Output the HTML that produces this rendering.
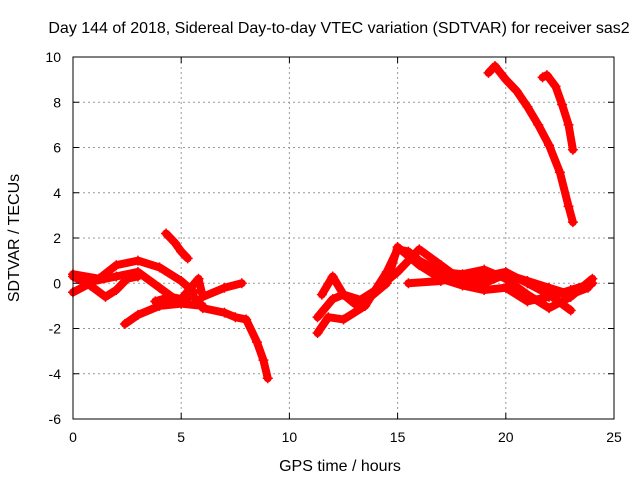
<!DOCTYPE html>
<html><head><meta charset="utf-8"><style>
body{margin:0;background:#fff;}
svg text{font-family:"Liberation Sans",sans-serif;font-size:14px;fill:#000;}
</style></head><body>
<svg id="chart" width="640" height="480" xmlns="http://www.w3.org/2000/svg">
<text x="339" y="33" text-anchor="middle" style="font-size:16px">Day 144 of 2018, Sidereal Day-to-day VTEC variation (SDTVAR) for receiver sas2</text>
<text x="340" y="471" text-anchor="middle" style="font-size:16px">GPS time / hours</text>
<text x="0" y="0" transform="translate(19,238) rotate(-90)" text-anchor="middle" style="font-size:16px">SDTVAR / TECUs</text>
<g id="grid"></g><g id="marks"></g><g id="axes"></g>
</svg>
<script>
const xTicks=[0,5,10,15,20,25];
const yTicks=[-6,-4,-2,0,2,4,6,8,10];
const trackA=[[19.2,9.3],[19.5,9.6],[20,9.0],[20.5,8.5],[21,7.8],[21.5,7.0],[22,6.1],[22.5,4.9],[22.9,3.4],[23.1,2.7]];
const trackB=[[21.7,9.1],[21.9,9.2],[22.3,8.7],[22.6,7.9],[22.9,7.0],[23.1,5.9]];
const trackC=[[4.3,2.2],[4.7,1.8],[5.0,1.4],[5.3,1.1]];
const trackD=[[2.4,-1.8],[3,-1.4],[4,-1.0],[5,-0.9],[5.5,-0.5],[6,-1.1],[7,-1.3],[7.5,-1.5],[8,-1.6],[8.5,-2.6],[8.8,-3.4],[9,-4.2]];
const trackE=[[0,0.4],[1.2,0.2],[2,0.8],[3,1.0],[4,0.7],[5,0.1],[5.6,-0.4]];
const trackF=[[0,-0.4],[1,0.1],[2,0.3],[3,0.5],[4,-0.2],[5,-0.9],[6,-1.0]];
const trackG=[[3.8,-0.8],[4.5,-0.6],[5,-0.7],[5.8,0.2],[6,-0.6],[7,-0.2],[7.8,0]];
const trackH=[[0,0.3],[0.8,-0.1],[1.5,-0.6],[2,-0.3],[2.5,0.2],[3,0.3]];
const trackJ=[[11.3,-2.2],[11.8,-1.5],[12.5,-1.6],[13.5,-1.0],[14.5,0.5],[15,1.5],[15.5,1.4],[16,1.0],[17,0.5],[18,0.4],[19,0.6],[20,0.2],[21,-0.5],[22,-1.1],[23,-0.6],[24,0.2]];
const trackK=[[11.3,-1.5],[12,-0.7],[12.5,-0.5],[13,-0.9],[14,-0.3],[15,0.5],[16,1.5],[17,0.8],[18,0.1],[19,0.3],[20,0.5],[21,0],[22,-0.5],[23,-1.2]];
const trackL=[[11.5,-0.5],[12,0.3],[12.5,-0.5],[13.5,-0.8],[14.5,0],[15,1.6],[16,0.8],[17,0.2],[18,-0.1],[19,-0.3],[20,-0.2],[21,-0.8],[22,-0.6],[23,-0.3],[24,0]];
const trackM=[[15.5,0],[17,0.1],[18,0.3],[19,0],[20,0.4],[21,0.1],[22,-0.2],[23,-0.5],[23.8,-0.2]];
const tracks=[trackA,trackB,trackC,trackD,trackE,trackF,trackG,trackH,trackJ,trackK,trackL,trackM];
const X0=73,X1=614,Y0=419,Y1=57;
const sx=v=>X0+(v-0)/(25-0)*(X1-X0);
const sy=v=>Y0-(v+6)/(16)*(Y0-Y1);
const NS="http://www.w3.org/2000/svg";
function mk(t,a,p){const e=document.createElementNS(NS,t);for(const k in a)e.setAttribute(k,a[k]);p.appendChild(e);return e;}
const grid=document.getElementById('grid'),axes=document.getElementById('axes'),marks=document.getElementById('marks');
xTicks.forEach(t=>{const x=sx(t);
 if(t>0&&t<25){const l=mk('line',{x1:x,x2:x,y1:Y1,y2:Y0,stroke:'#999','stroke-dasharray':'2,3'},grid);
 
 }
 mk('line',{x1:x,x2:x,y1:Y0,y2:Y0-6,stroke:'#000'},axes);mk('line',{x1:x,x2:x,y1:Y1,y2:Y1+6,stroke:'#000'},axes);
 const tx=mk('text',{x:x,y:Y0+23,'text-anchor':'middle'},axes);tx.textContent=t;
 
 });
yTicks.forEach(t=>{const y=sy(t);
 if(t>-6&&t<10){const l=mk('line',{x1:X0,x2:X1,y1:y,y2:y,stroke:'#999','stroke-dasharray':'2,3'},grid);
 
 }
 mk('line',{x1:X0,x2:X0+6,y1:y,y2:y,stroke:'#000'},axes);mk('line',{x1:X1,x2:X1-6,y1:y,y2:y,stroke:'#000'},axes);
 const tx=mk('text',{x:X0-12,y:y+5,'text-anchor':'end'},axes);tx.textContent=t;
 
 });
const box=mk('rect',{x:X0,y:Y1,width:X1-X0,height:Y0-Y1,fill:'none',stroke:'#000'},axes);


tracks.forEach(tr=>{
 const pl=mk('polyline',{points:tr.map(p=>sx(p[0])+','+sy(p[1])).join(' '),fill:'none',stroke:'#f00','stroke-width':8,'stroke-linejoin':'round','stroke-linecap':'round'},marks);
 
 
 tr.forEach(p=>{const x=sx(p[0]),y=sy(p[1]);
  const m=mk('path',{d:`M${x-5},${y}H${x+5}M${x},${y-5}V${y+5}`,stroke:'#f00','stroke-width':1.5},marks);
  
  });
});
</script>
</body></html>
